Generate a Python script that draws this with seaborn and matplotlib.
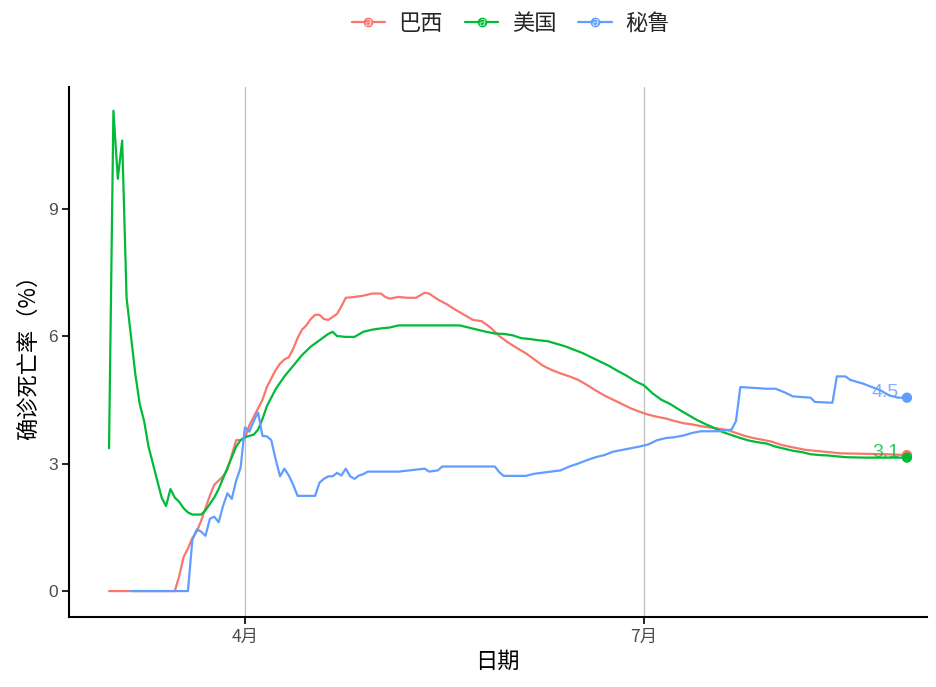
import numpy as np
import pandas as pd
import matplotlib
matplotlib.use("Agg")
import matplotlib.pyplot as plt
from matplotlib.lines import Line2D
from matplotlib.legend_handler import HandlerTuple
import seaborn as sns

# ---- data (day offsets from 2020-03-01, case fatality rate %) ----
brazil_days = [0, 5, 10, 15, 16, 17, 18, 19, 20, 21, 22, 23, 24, 25, 26, 27, 28, 29, 30, 31,
               32, 33, 34, 35, 36, 37, 38, 39, 40, 41, 42, 43, 44, 45, 46, 47, 48, 49, 50, 51,
               52, 53, 54, 56, 58, 60, 62, 63, 64, 66, 68, 70, 72, 73, 75, 77, 79, 81, 83, 85,
               87, 89, 91, 93, 95, 97, 99, 101, 103, 105, 107, 109, 111, 113, 115, 117, 119,
               121, 123, 125, 127, 129, 131, 133, 135, 137, 139, 141, 143, 145, 147, 149, 151,
               153, 155, 157, 159, 161, 163, 165, 167, 172, 177, 182]
brazil_vals = [0, 0, 0, 0.0, 0.35, 0.8, 1.0, 1.25, 1.4, 1.65, 1.95, 2.25, 2.5, 2.6, 2.7, 2.85,
               3.2, 3.55, 3.55, 3.6, 3.9, 4.1, 4.3, 4.5, 4.8, 5.0, 5.2, 5.35, 5.45, 5.5, 5.7,
               5.95, 6.15, 6.25, 6.4, 6.5, 6.5, 6.4, 6.38, 6.45, 6.52, 6.7, 6.9, 6.92, 6.95,
               7.0, 7.0, 6.92, 6.88, 6.92, 6.9, 6.9, 7.02, 7.0, 6.86, 6.75, 6.62, 6.5, 6.38,
               6.35, 6.2, 6.0, 5.85, 5.72, 5.6, 5.45, 5.3, 5.2, 5.12, 5.05, 4.97, 4.85, 4.72,
               4.6, 4.5, 4.4, 4.3, 4.22, 4.15, 4.1, 4.06, 4.0, 3.95, 3.92, 3.88, 3.85, 3.82,
               3.79, 3.72, 3.65, 3.6, 3.56, 3.52, 3.45, 3.4, 3.36, 3.32, 3.3, 3.28, 3.26, 3.24,
               3.23, 3.22, 3.2]

us_days = [0, 1, 2, 3, 4, 5, 6, 7, 8, 9, 10, 11, 12, 13, 14, 15, 16, 17, 18, 19, 20, 21, 22,
           23, 24, 25, 26, 27, 28, 29, 30, 31, 32, 33, 34, 35, 36, 37, 38, 40, 42, 44, 46, 48,
           50, 51, 52, 54, 56, 58, 60, 62, 64, 66, 70, 75, 80, 82, 84, 86, 88, 90, 92, 94, 96,
           98, 100, 102, 104, 106, 108, 110, 112, 114, 116, 118, 120, 122, 124, 126, 128, 130,
           132, 134, 136, 138, 140, 142, 144, 146, 148, 150, 152, 154, 156, 158, 160, 162, 164,
           166, 168, 172, 176, 182]
us_vals = [3.36, 11.3, 9.7, 10.6, 6.9, 6.0, 5.1, 4.4, 4.0, 3.4, 3.0, 2.6, 2.2, 2.0, 2.4, 2.2,
           2.1, 1.95, 1.85, 1.8, 1.8, 1.8, 1.9, 2.05, 2.2, 2.4, 2.65, 2.9, 3.15, 3.4, 3.55,
           3.62, 3.65, 3.68, 3.8, 4.05, 4.35, 4.55, 4.75, 5.05, 5.3, 5.55, 5.75, 5.9, 6.05,
           6.1, 6.0, 5.98, 5.98, 6.1, 6.15, 6.18, 6.2, 6.25, 6.25, 6.25, 6.25, 6.2, 6.15, 6.1,
           6.06, 6.05, 6.02, 5.95, 5.93, 5.9, 5.88, 5.82, 5.76, 5.68, 5.6, 5.5, 5.4, 5.3,
           5.18, 5.07, 4.94, 4.84, 4.65, 4.5, 4.4, 4.27, 4.15, 4.03, 3.93, 3.84, 3.74, 3.67,
           3.6, 3.54, 3.5, 3.47, 3.4, 3.35, 3.3, 3.27, 3.22, 3.2, 3.19, 3.17, 3.15, 3.14,
           3.14, 3.14]

peru_days = [5, 10, 15, 18, 19, 20, 21, 22, 23, 24, 25, 26, 27, 28, 29, 30, 31, 32, 33, 34,
             35, 36, 37, 38, 39, 40, 41, 42, 43, 47, 48, 49, 50, 51, 52, 53, 54, 55, 56, 57,
             58, 59, 66, 72, 73, 75, 76, 88, 89, 90, 95, 97, 100, 103, 105, 107, 109, 111,
             113, 115, 117, 119, 121, 123, 125, 127, 129, 131, 133, 135, 139, 142, 143, 144,
             147, 150, 152, 154, 156, 160, 161, 165, 166, 168, 169, 172, 174, 176, 178, 180,
             182]
peru_vals = [0, 0, 0, 0.0, 1.2, 1.45, 1.4, 1.3, 1.7, 1.75, 1.62, 2.0, 2.3, 2.17, 2.6, 2.9,
             3.85, 3.75, 4.0, 4.2, 3.65, 3.64, 3.55, 3.1, 2.7, 2.88, 2.72, 2.5, 2.24, 2.24,
             2.55, 2.64, 2.7, 2.7, 2.78, 2.72, 2.88, 2.7, 2.64, 2.72, 2.75, 2.81, 2.81, 2.88,
             2.81, 2.84, 2.93, 2.93, 2.8, 2.71, 2.71, 2.76, 2.8, 2.84, 2.93, 3.0, 3.08, 3.15,
             3.2, 3.28, 3.32, 3.36, 3.4, 3.45, 3.55, 3.6, 3.62, 3.66, 3.72, 3.76, 3.76, 3.8,
             4.0, 4.8, 4.78, 4.76, 4.76, 4.68, 4.58, 4.55, 4.45, 4.43, 5.05, 5.05, 4.97, 4.88,
             4.8, 4.72, 4.6, 4.55, 4.55]

countries = ["巴西", "美国", "秘鲁"]
colors = ["#F8766D", "#00BA38", "#619CFF"]
end_labels = {"美国": "3.1", "秘鲁": "4.5"}
start_date = "2020-03-01"
tick_dates = ["2020-04-01", "2020-07-01"]
tick_labels = ["4月", "7月"]
y_ticks = [0, 3, 6, 9]

# ---- build long table ----
frames = []
for name, d, v in [("巴西", brazil_days, brazil_vals),
                   ("美国", us_days, us_vals),
                   ("秘鲁", peru_days, peru_vals)]:
    frames.append(pd.DataFrame({
        "date": pd.Timestamp(start_date) + pd.to_timedelta(d, unit="D"),
        "rate": v,
        "country": name,
    }))
df = pd.concat(frames, ignore_index=True)
palette = dict(zip(countries, colors))

sns.set_theme(style="white")
plt.rcParams["font.family"] = ["Noto Sans CJK SC", "DejaVu Sans"]

fig = plt.figure(figsize=(9.37, 6.87), dpi=100)
ax = fig.add_axes([0.0736, 0.1019, 0.9154, 0.7715])

sns.lineplot(data=df, x="date", y="rate", hue="country", palette=palette,
             hue_order=countries, linewidth=1.6, ax=ax, legend=False, zorder=3)

# end points and labels
for name in countries:
    sub = df[df.country == name]
    last = sub.iloc[-1]
    ax.scatter([last.date], [last.rate], color=palette[name], s=55, zorder=5,
               edgecolor="none")
    if name in end_labels:
        ax.text(last.date - pd.Timedelta(days=1.8), last.rate + 0.13, end_labels[name],
                color=palette[name], alpha=0.8, fontsize=14, ha="right",
                va="center", zorder=4, family=["Liberation Sans", "DejaVu Sans"])

# axes limits (ggplot-like expansion)
x0 = pd.Timestamp(start_date)
ax.set_xlim(x0 - pd.Timedelta(days=9.14), x0 + pd.Timedelta(days=186.5))
ax.set_ylim(-0.61, 11.86)

ax.set_xticks([pd.Timestamp(t) for t in tick_dates])
ax.set_xticklabels(tick_labels)
ax.set_yticks(y_ticks)
ax.set_yticklabels([str(t) for t in y_ticks])
for t in ax.get_yticklabels():
    t.set_family(["Liberation Sans", "DejaVu Sans"])

ax.tick_params(axis="both", which="major", length=5, width=1.2, color="black",
               labelsize=12.5, labelcolor="#4D4D4D", direction="out", bottom=True,
               left=True, pad=3)
ax.grid(False)
for t in tick_dates:
    ax.axvline(pd.Timestamp(t), color="#BEBEBE", linewidth=0.9, zorder=1)

for s in ["top", "right"]:
    ax.spines[s].set_visible(False)
for s in ["left", "bottom"]:
    ax.spines[s].set_color("black")
    ax.spines[s].set_linewidth(1.5)

ax.set_xlabel("日期", fontsize=16, color="black", labelpad=3)
ax.set_ylabel("确诊死亡率（%）", fontsize=16, color="black", labelpad=6)

handles = []
for c in colors:
    ln = Line2D([0], [0], color=c, lw=1.6, marker="o", markersize=6)
    a = Line2D([0], [0], color="white", lw=0, marker="$a$", markersize=5, alpha=0.7,
               markeredgewidth=0)
    handles.append((ln, a))
fig.legend(handles, countries, loc="upper center", bbox_to_anchor=(0.545, 1.012),
           ncol=3, frameon=False, fontsize=16, handlelength=1.5, columnspacing=1.0,
           handletextpad=0.6, handler_map={tuple: HandlerTuple(ndivide=1)})

fig.savefig("out.png", dpi=100, facecolor="white")
